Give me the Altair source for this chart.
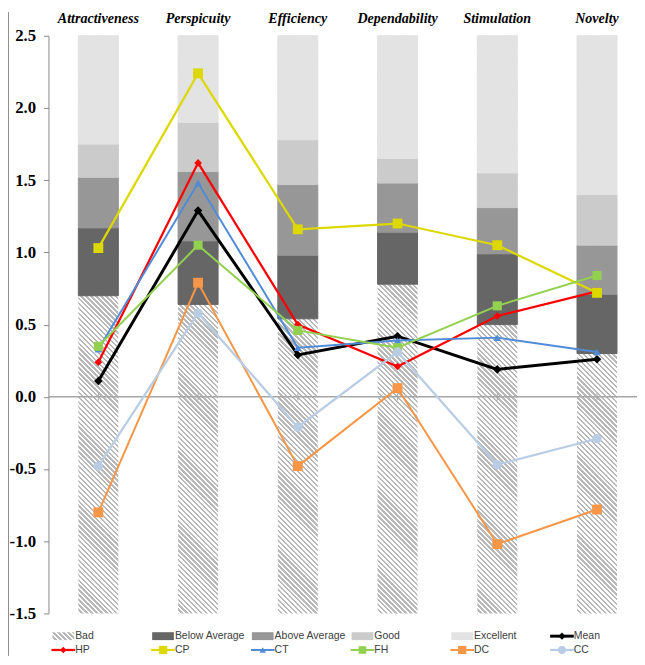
import altair as alt
import pandas as pd

# ---------------- data ----------------
categories = ["Attractiveness", "Perspicuity", "Efficiency", "Dependability", "Stimulation", "Novelty"]

# benchmark band upper limits
bad_top = [0.70, 0.64, 0.54, 0.78, 0.50, 0.30]
below_top = [1.17, 1.08, 0.98, 1.14, 0.99, 0.71]
above_top = [1.52, 1.56, 1.47, 1.48, 1.31, 1.05]
good_top = [1.75, 1.90, 1.78, 1.65, 1.55, 1.40]
excellent_top = [2.5, 2.5, 2.5, 2.5, 2.5, 2.5]

y_min, y_max = -1.5, 2.5
y_ticks = [-1.5, -1.0, -0.5, 0.0, 0.5, 1.0, 1.5, 2.0, 2.5]

series_names = ["Mean", "HP", "CP", "CT", "FH", "DC", "CC"]
mean_vals = [0.11, 1.29, 0.29, 0.42, 0.19, 0.26]
hp_vals = [0.24, 1.62, 0.50, 0.21, 0.56, 0.73]
cp_vals = [1.03, 2.24, 1.16, 1.20, 1.05, 0.72]
ct_vals = [0.33, 1.48, 0.34, 0.39, 0.41, 0.31]
fh_vals = [0.35, 1.05, 0.46, 0.34, 0.63, 0.84]
dc_vals = [-0.80, 0.79, -0.48, 0.06, -1.02, -0.78]
cc_vals = [-0.48, 0.58, -0.21, 0.31, -0.47, -0.29]
series_values = [mean_vals, hp_vals, cp_vals, ct_vals, fh_vals, dc_vals, cc_vals]

level_names = ["Bad", "Below Average", "Above Average", "Good", "Excellent"]

# ---------------- styles ----------------
W, H = 596, 585
BAND_SPAN = 606
PAD_L, PAD_T, PAD_R, PAD_B = 41, 24, 0, 43
BAR_W = 40.5
level_colors = ["#666666", "#979797", "#cbcbcb", "#e3e3e3"]
series_colors = ["#000000", "#ff0000", "#dcd800", "#4f8bd6", "#92d050", "#f79646", "#b8cce4"]
series_shapes = ["diamond", "diamond", "square", "triangle-up", "square", "square", "circle"]
series_msize = [75, 60, 100, 60, 85, 100, 90]
series_sw = [3, 2.25, 2.25, 2, 2, 2, 2.25]
AXIS_GRAY = "#868686"
HATCH_LINE = "#b9b9b9"
HATCH_BG = "#ffffff"


def hatch_gradient(w, h, period=5.0, frac=0.48):
    r = w / h
    k = (1 + r) / (1 + r * r)
    n = (w + h) / period
    stops = []
    i = 0
    while i < n:
        a = i / n
        b = min((i + frac) / n, 1.0)
        c = min((i + 1) / n, 1.0)
        stops += [
            alt.GradientStop(offset=a, color=HATCH_LINE),
            alt.GradientStop(offset=b, color=HATCH_LINE),
            alt.GradientStop(offset=b, color=HATCH_BG),
            alt.GradientStop(offset=c, color=HATCH_BG),
        ]
        i += 1
    return alt.LinearGradient(gradient="linear", stops=stops, x1=1, y1=0, x2=1 - k * r, y2=k)


# ---------------- tables ----------------
df_cat = pd.DataFrame({"cat": categories, "lo": [y_min] * 6, "hi": [y_max] * 6,
                       "t0": [-0.025] * 6, "t1": [0.025] * 6})

tops = [bad_top, below_top, above_top, good_top, excellent_top]
rows = []
for li in range(1, 5):
    for ci, c in enumerate(categories):
        rows.append({"cat": c, "level": level_names[li], "lo": tops[li - 1][ci], "hi": tops[li][ci]})
df_levels = pd.DataFrame(rows)

df_zero = pd.DataFrame({"cat": categories[:1], "v": [0.0]})
df_one = pd.DataFrame({"v": [0]})

xscale = alt.Scale(domain=categories, range=[0, BAND_SPAN], paddingInner=0, paddingOuter=0)
yscale = alt.Scale(domain=[y_min, y_max], nice=False, zero=False)

x_axis = alt.Axis(orient="top", ticks=False, domain=False, labelAngle=0,
                  labelFont="Liberation Serif", labelFontSize=14.2, labelFontWeight="bold",
                  labelFontStyle="italic", labelColor="#000000", labelPadding=10.5, title=None)
y_axis = alt.Axis(values=y_ticks, labelExpr="(datum.value < 0 ? '-' : '') + format(abs(datum.value), '.1f')",
                  labelFont="Liberation Serif", labelFontSize=17, labelFontWeight="bold",
                  labelColor="#000000", domainColor=AXIS_GRAY, tickColor=AXIS_GRAY,
                  tickSize=5, labelPadding=8, grid=False, title=None)


def X():
    return alt.X("cat:N", sort=categories, scale=xscale, axis=x_axis, title=None)


def Y(field):
    return alt.Y(field, scale=yscale, axis=y_axis, title=None)


hatch = alt.Chart(df_cat).mark_bar(size=BAR_W, color=hatch_gradient(BAR_W, H)).encode(
    x=X(), y=Y("lo:Q"), y2="hi:Q",
)

lvl_scale = alt.Scale(domain=level_names[1:], range=level_colors)
bands = alt.Chart(df_levels).mark_bar(size=BAR_W, strokeWidth=1).encode(
    x=X(), y=Y("lo:Q"), y2="hi:Q",
    color=alt.Color("level:N", scale=lvl_scale, legend=None),
    stroke=alt.Stroke("level:N", scale=lvl_scale, legend=None),
)

zero = alt.Chart(df_zero).mark_rule(color="#a6a6a6", strokeWidth=1.5).encode(
    y=Y("v:Q")
)
zero_ticks = alt.Chart(df_cat).mark_rule(color="#a6a6a6", strokeWidth=1).encode(
    x=X(), y=Y("t0:Q"), y2="t1:Q"
)

series_layers = []
for name, vals, col, shp, ms, sw in zip(series_names, series_values, series_colors,
                                          series_shapes, series_msize, series_sw):
    d = pd.DataFrame({"cat": categories, "value": vals, "series": name})
    series_layers.append(
        alt.Chart(d).mark_line(color=col, strokeWidth=sw,
                               point=alt.OverlayMarkDef(shape=shp, size=ms, filled=True, color=col, opacity=1)).encode(
            x=X(), y=Y("value:Q")
        )
    )

frame_left = alt.Chart(df_one).mark_rule(color="#8c8c8c", strokeWidth=1).encode(
    x=alt.value(0.5 - PAD_L), y=alt.value(-PAD_T), y2=alt.value(H + PAD_B)
)

main = alt.layer(hatch, bands, zero, zero_ticks, *series_layers, frame_left)

# ---------------- legend ----------------
leg_items = []
for i, nm in enumerate(level_names):
    leg_items.append({"label": nm, "col": i, "row": 0,
                      "kind": "hatch" if i == 0 else "rect",
                      "color": HATCH_LINE if i == 0 else level_colors[i - 1],
                      "shape": "", "msize": 0, "sw": 0})
for si, nm in enumerate(series_names):
    col = 5 if si == 0 else si - 1
    row = 0 if si == 0 else 1
    leg_items.append({"label": nm, "col": col, "row": row, "kind": "line",
                      "color": series_colors[si], "shape": series_shapes[si],
                      "msize": series_msize[si] * 0.7, "sw": series_sw[si]})
df_leg = pd.DataFrame(leg_items)

LX = alt.X("col:Q", scale=alt.Scale(domain=[0, 5], range=[15, 520]), axis=None)
LY = alt.Y("row:Q", scale=alt.Scale(domain=[0, 1], range=[H + 23, H + 37]), axis=None)
rect_path = "M-1.375,-0.5H1.375V0.5H-1.375Z"
line_path = "M-1.5,0H1.5"

leg_base = alt.Chart(df_leg).encode(x=LX, y=LY)
leg_hatch = leg_base.transform_filter("datum.kind == 'hatch'").mark_point(
    shape=rect_path, size=256, filled=True, opacity=1, strokeWidth=0, fill=hatch_gradient(22, 8, 5.0, 0.48))
leg_rect = leg_base.transform_filter("datum.kind == 'rect'").mark_point(
    shape=rect_path, size=256, filled=True, opacity=1, strokeWidth=0).encode(
    color=alt.Color("color:N", scale=None))
leg_line = leg_base.transform_filter("datum.kind == 'line'").mark_point(
    shape=line_path, size=256, filled=False, opacity=1).encode(
    stroke=alt.Color("color:N", scale=None),
    strokeWidth=alt.StrokeWidth("sw:Q", scale=None))
leg_marker = leg_base.transform_filter("datum.kind == 'line'").mark_point(
    filled=True, opacity=1).encode(
    color=alt.Color("color:N", scale=None),
    shape=alt.Shape("shape:N", scale=None),
    size=alt.Size("msize:Q", scale=None))
leg_text = leg_base.mark_text(align="left", baseline="middle", dx=12, font="Liberation Sans",
                              fontSize=10.6, color="#404040").encode(text="label:N")

legend = alt.layer(leg_hatch, leg_rect, leg_line, leg_marker, leg_text)

chart = alt.layer(main, legend).resolve_scale(
    x="independent", y="independent", color="independent", shape="independent",
    size="independent", strokeWidth="independent", stroke="independent"
).properties(
    width=W, height=H,
    padding={"left": PAD_L, "top": PAD_T, "right": PAD_R, "bottom": PAD_B},
    autosize=alt.AutoSizeParams(type="none"),
).configure_view(strokeWidth=0)

chart.save("out.html", embed_options={"renderer": "svg", "actions": False})
